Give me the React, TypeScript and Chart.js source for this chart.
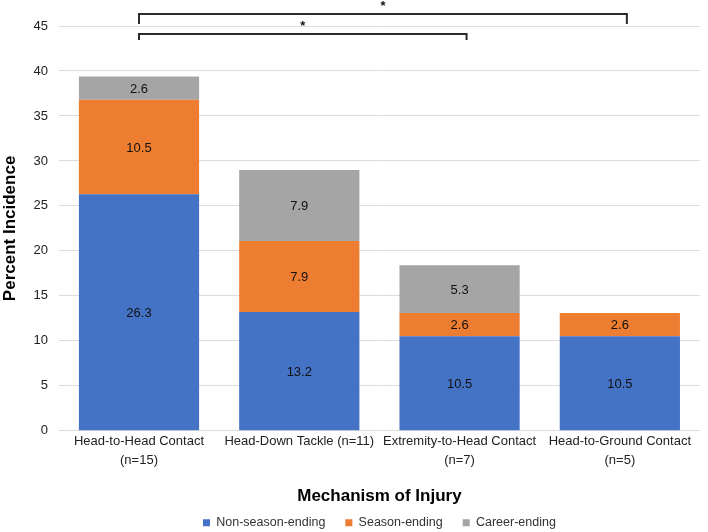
import React, { useEffect, useRef } from "react";
import { Chart, registerables } from "chart.js";

Chart.register(...registerables);

const categories: string[][] = [
  ["Head-to-Head Contact", "(n=15)"],
  ["Head-Down Tackle (n=11)"],
  ["Extremity-to-Head Contact", "(n=7)"],
  ["Head-to-Ground Contact", "(n=5)"],
];
const nonSeasonEnding = [26.3, 13.2, 10.5, 10.5];
const seasonEnding = [10.5, 7.9, 2.6, 2.6];
const careerEnding = [2.6, 7.9, 5.3, 0];
const yTicks = [0, 5, 10, 15, 20, 25, 30, 35, 40, 45];
// significance brackets: [from category index, to category index, level]
const brackets: [number, number, number][] = [
  [0, 3, 0],
  [0, 2, 1],
];

const FONT = "'Liberation Sans', Arial, Helvetica, sans-serif";

const labelPlugin = {
  id: "barLabels",
  afterDatasetsDraw(chart: any) {
    const ctx = chart.ctx;
    ctx.save();
    ctx.font = `13px ${FONT}`;
    ctx.fillStyle = "#111";
    ctx.textAlign = "center";
    ctx.textBaseline = "middle";
    chart.data.datasets.forEach((ds: any, i: number) => {
      const meta = chart.getDatasetMeta(i);
      meta.data.forEach((el: any, j: number) => {
        const v = ds.data[j];
        if (!v) return;
        ctx.fillText(v.toFixed(1), el.x, (el.y + el.base) / 2 + 1);
      });
    });
    ctx.restore();
  },
};

const bracketPlugin = {
  id: "brackets",
  afterDraw(chart: any) {
    const ctx = chart.ctx;
    const x = chart.scales.x;
    const top = chart.chartArea.top;
    ctx.save();
    ctx.strokeStyle = "#2b2b2b";
    ctx.lineWidth = 2;
    ctx.fillStyle = "#111";
    ctx.font = `bold 13px ${FONT}`;
    ctx.textAlign = "center";
    ctx.textBaseline = "middle";
    brackets.forEach(([a, b, level]) => {
      const x1 = x.getPixelForValue(a);
      const x2 = x.getPixelForValue(b) + 7;
      const yh = top - 12 + level * 20;
      const yl = yh + (level === 0 ? 10 : 6);
      ctx.beginPath();
      ctx.moveTo(x1, yl);
      ctx.lineTo(x1, yh);
      ctx.lineTo(x2, yh);
      ctx.lineTo(x2, yl);
      ctx.stroke();
      ctx.fillText("*", (x1 + x2) / 2, yh - 8);
    });
    ctx.restore();
  },
};

export default function App() {
  const ref = useRef<HTMLCanvasElement>(null);
  useEffect(() => {
    document.body.style.margin = "0";
    const chart = new Chart(ref.current!, {
      type: "bar",
      data: {
        labels: categories,
        datasets: [
          { label: "Non-season-ending", data: nonSeasonEnding, backgroundColor: "#4472C4" },
          { label: "Season-ending", data: seasonEnding, backgroundColor: "#ED7D31" },
          { label: "Career-ending", data: careerEnding, backgroundColor: "#A5A5A5" },
        ],
      },
      options: {
        animation: false,
        responsive: false,
        layout: { padding: { top: 26, right: 8, left: 0, bottom: -7 } },
        datasets: { bar: { categoryPercentage: 0.75, barPercentage: 1 } },
        scales: {
          x: {
            stacked: true,
            grid: { display: false, drawTicks: false },
            border: { display: false },
            ticks: {
              color: "#222",
              font: { family: FONT, size: 13, lineHeight: 1.4 },
              maxRotation: 0,
              autoSkip: false,
              padding: 2,
            },
            title: {
              display: true,
              text: "Mechanism of Injury",
              color: "#000",
              font: { family: FONT, size: 17, weight: "bold" },
              padding: { top: 15.4, bottom: -10.5 },
            },
          },
          y: {
            stacked: true,
            min: 0,
            max: 45,
            afterBuildTicks: (s: any) => {
              s.ticks = yTicks.map((v) => ({ value: v }));
            },
            grid: { color: "#dcdcdc", lineWidth: 1, drawTicks: false },
            border: { display: false },
            ticks: { color: "#222", font: { family: FONT, size: 13 }, padding: 11 },
            title: {
              display: true,
              text: "Percent Incidence",
              color: "#000",
              font: { family: FONT, size: 17, weight: "bold" },
              padding: { top: 0, bottom: 2 },
            },
          },
        },
        plugins: {
          legend: {
            position: "bottom",
            fullSize: false,
            labels: {
              boxWidth: 7,
              boxHeight: 7,
              color: "#333",
              font: { family: FONT, size: 12.5 },
              padding: 20,
            },
          },
          tooltip: { enabled: false },
        },
      },
      plugins: [labelPlugin, bracketPlugin],
    });
    return () => chart.destroy();
  }, []);
  return <canvas ref={ref} width={708} height={532} style={{ display: "block" }} />;
}
